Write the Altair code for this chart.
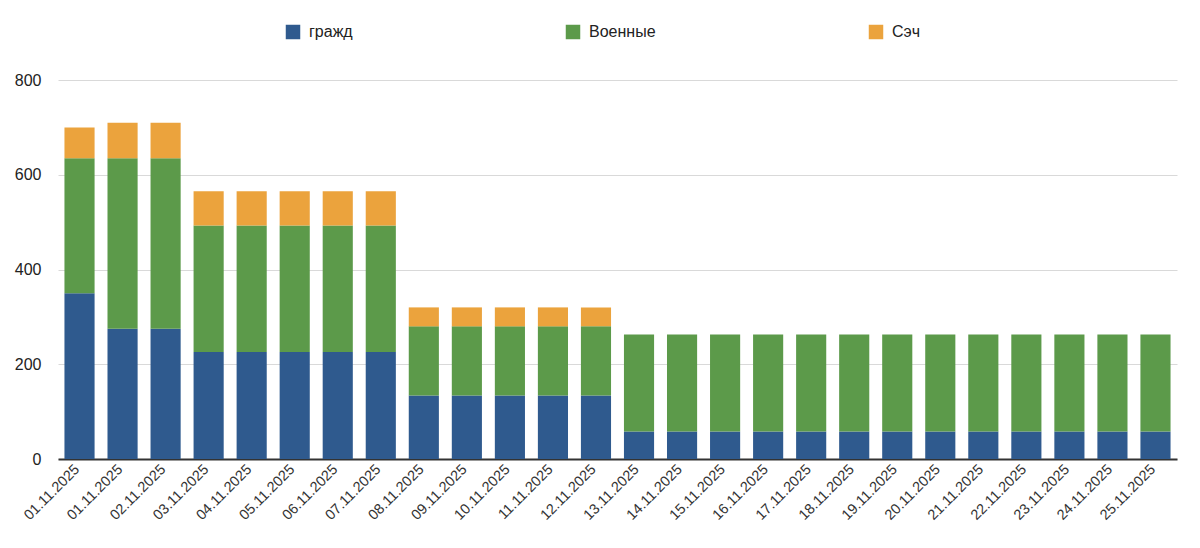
import json
import altair as alt
import pandas as pd

dates = ["01.11.2025", "01.11.2025", "02.11.2025", "03.11.2025", "04.11.2025",
         "05.11.2025", "06.11.2025", "07.11.2025", "08.11.2025", "09.11.2025",
         "10.11.2025", "11.11.2025", "12.11.2025", "13.11.2025", "14.11.2025",
         "15.11.2025", "16.11.2025", "17.11.2025", "18.11.2025", "19.11.2025",
         "20.11.2025", "21.11.2025", "22.11.2025", "23.11.2025", "24.11.2025",
         "25.11.2025"]
grazhd = [350, 275, 275, 226, 226, 226, 226, 226, 134, 134, 134, 134, 134,
          58, 58, 58, 58, 58, 58, 58, 58, 58, 58, 58, 58, 58]
voennye = [285, 360, 360, 267, 267, 267, 267, 267, 146, 146, 146, 146, 146,
           205, 205, 205, 205, 205, 205, 205, 205, 205, 205, 205, 205, 205]
sech = [65, 75, 75, 72, 72, 72, 72, 72, 40, 40, 40, 40, 40,
        0, 0, 0, 0, 0, 0, 0, 0, 0, 0, 0, 0, 0]

series_names = ["гражд", "Военные", "Сэч"]
series_colors = ["#2f5a8e", "#5c9a4a", "#eba33d"]

rows = []
for i, d in enumerate(dates):
    for k, (name, vals) in enumerate(zip(series_names, [grazhd, voennye, sech])):
        rows.append({"idx": i, "date": d, "series": name, "order": k, "value": vals[i]})
df = pd.DataFrame(rows)

label_expr = json.dumps(dates) + "[datum.value]"
FONT = "Liberation Sans"

chart = alt.Chart(df).mark_bar().encode(
    x=alt.X("idx:O",
            scale=alt.Scale(paddingInner=0.3, paddingOuter=0.15),
            axis=alt.Axis(title=None, labelExpr=label_expr, labelAngle=315,
                          labelAlign="right", labelBaseline="top",
                          labelFontSize=14.5, labelColor="#333333", labelFont=FONT,
                          ticks=False, labelPadding=3, labelOffset=-7,
                          domainColor="#333333", domainWidth=2, grid=False)),
    y=alt.Y("value:Q", stack="zero",
            scale=alt.Scale(domain=[0, 800], nice=False),
            axis=alt.Axis(title=None, values=[0, 200, 400, 600, 800],
                          labelFontSize=16, labelColor="#222222", labelFont=FONT,
                          ticks=False, domain=False, labelPadding=17,
                          gridColor="#d9d9d9", gridWidth=1)),
    color=alt.Color("series:N",
                    scale=alt.Scale(domain=series_names, range=series_colors),
                    legend=alt.Legend(title=None, orient="none", direction="horizontal",
                                      legendX=227, legendY=-56,
                                      symbolType="square", symbolSize=210,
                                      symbolStrokeWidth=0, symbolOpacity=1,
                                      labelFontSize=16, labelFont=FONT,
                                      labelColor="#222222", columnPadding=212,
                                      labelOffset=8)),
    order=alt.Order("order:Q", sort="ascending"),
).properties(
    width=1119, height=379,
    padding={"left": 6, "top": 16, "right": 5, "bottom": 5},
).configure(background="white").configure_view(stroke=None)

chart.save("out.html", embed_options={"renderer": "svg", "actions": False})
